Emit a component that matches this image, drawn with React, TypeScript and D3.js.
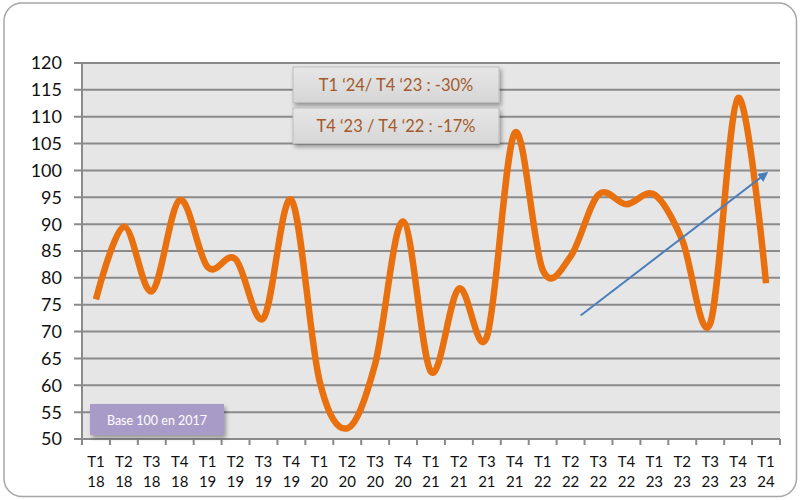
import React from "react";
import * as d3 from "d3";

const quarters = ["T1","T2","T3","T4","T1","T2","T3","T4","T1","T2","T3","T4","T1","T2","T3","T4","T1","T2","T3","T4","T1","T2","T3","T4","T1"];
const years = ["18","18","18","18","19","19","19","19","20","20","20","20","21","21","21","21","22","22","22","22","23","23","23","23","24"];
const values = [76, 89.5, 77.5, 94.5, 82, 83.5, 72.5, 94.5, 61, 52, 64, 90.5, 62.5, 78, 69, 107, 81.5, 84, 95.5, 93.7, 95.5, 87, 71.5, 113.5, 79];
const yTicks = [50, 55, 60, 65, 70, 75, 80, 85, 90, 95, 100, 105, 110, 115, 120];
const annotations = ["T1 \u201824/ T4 \u201823 : -30%", "T4 \u201823 / T4 \u201822 : -17%"];
const baseNote = "Base 100 en 2017";
// trend arrow in data units: [category index position, value]
const arrowFrom = [17.36, 73];
const arrowTo = [24.02, 99.5];

const W = 800, H = 500;
const left = 82, right = 780, top = 63, bottom = 439;
const FONT = "Lato, 'Open Sans', sans-serif";

export default function App() {
  const x = d3.scaleBand<number>().domain(values.map((_, i) => i)).range([left, right]).paddingInner(0).paddingOuter(0);
  const y = d3.scaleLinear().domain([50, 120]).range([bottom, top]);
  const cx = (i: number) => left + x.step() * (i + 0.5);
  const line = d3.line<number>().x((_, i) => cx(i)).y((d) => y(d)).curve(d3.curveCatmullRom.alpha(0));

  return (
    <svg width={W} height={H} style={{ position: "absolute", left: 0, top: 0 }} fontFamily={FONT}>
      <defs>
        <filter id="sh" x="-10%" y="-20%" width="130%" height="160%">
          <feDropShadow dx="2" dy="3" stdDeviation="2" floodColor="#000" floodOpacity="0.35" />
        </filter>
        <linearGradient id="boxg" x1="0" y1="0" x2="0" y2="1">
          <stop offset="0" stopColor="#e6e6e6" />
          <stop offset="1" stopColor="#d6d6d6" />
        </linearGradient>
        <marker id="arr" viewBox="0 0 10 10" refX="8" refY="5" markerWidth="5" markerHeight="5" orient="auto">
          <path d="M0,0 L10,5 L0,10 z" fill="#4a7ebb" />
        </marker>
      </defs>
      <rect x={0} y={0} width={W} height={H} fill="#fff" />
      <rect x={4} y={3} width={792.5} height={493.5} rx={18} ry={18} fill="#fff" stroke="#a6a6a6" strokeWidth={1.5} />
      <rect x={left} y={top} width={right - left} height={bottom - top} fill="#e6e6e6" />
      {yTicks.map((t) => (
        <g key={t}>
          <line x1={left - 8} x2={right} y1={y(t)} y2={y(t)} stroke="#8a8a8a" strokeWidth={2} />
          <text x={62} y={y(t)} dy="0.36em" textAnchor="end" fontSize={18} fill="#111">{t}</text>
        </g>
      ))}
      <line x1={left} x2={left} y1={top} y2={bottom} stroke="#8a8a8a" strokeWidth={2} />
      <line x1={left} x2={right} y1={bottom} y2={bottom} stroke="#8a8a8a" strokeWidth={2} />
      {d3.range(values.length + 1).map((i) => (
        <line key={i} x1={left + x.step() * i} x2={left + x.step() * i} y1={bottom} y2={bottom + 6} stroke="#8a8a8a" strokeWidth={2} />
      ))}
      {quarters.map((q, i) => (
        <g key={i}>
          <text x={cx(i)} y={467} textAnchor="middle" fontSize={15} fill="#111">{q}</text>
          <text x={cx(i)} y={487} textAnchor="middle" fontSize={15} fill="#111">{years[i]}</text>
        </g>
      ))}
      <path d={line(values) || ""} fill="none" stroke="#e8700f" strokeWidth={6.5} strokeLinejoin="round" strokeLinecap="butt" />
      <line
        x1={cx(arrowFrom[0])} y1={y(arrowFrom[1])}
        x2={cx(arrowTo[0])} y2={y(arrowTo[1])}
        stroke="#4a7ebb" strokeWidth={2} markerEnd="url(#arr)"
      />
      {annotations.map((a, k) => (
        <g key={k}>
          <rect x={293} y={67 + k * 41} width={206} height={35.5} fill="url(#boxg)" stroke="#bdbdbd" strokeWidth={1} filter="url(#sh)" />
          <text x={396} y={67 + k * 41 + 18} dy="0.36em" textAnchor="middle" fontSize={16.5} fill="#a35a2c">{a}</text>
        </g>
      ))}
      <rect x={90} y={404} width={134} height={31} fill="#a99bc8" filter="url(#sh)" />
      <text x={157} y={420} dy="0.36em" textAnchor="middle" fontSize={12.5} fill="#fff">{baseNote}</text>
    </svg>
  );
}
